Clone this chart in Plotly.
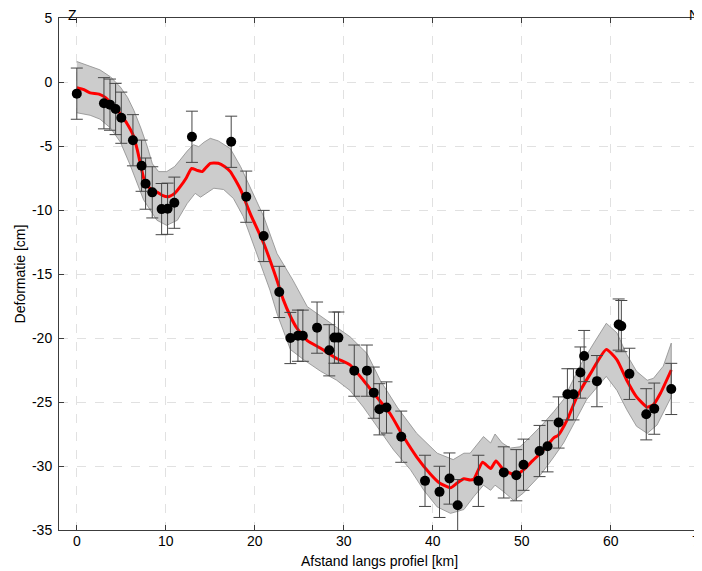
import plotly.graph_objects as go

# Measured points
pt_x = [0.0, 3.05, 3.73, 4.36, 5.0, 6.31, 7.28, 7.73, 8.48, 9.53, 10.2, 10.96, 12.94, 17.35,
        19.04, 21.0, 22.75, 24.0, 24.85, 25.4, 27.0, 28.37, 28.95, 29.4, 31.18, 32.6, 33.37,
        34.0, 34.8, 36.46, 39.13, 40.76, 41.88, 42.8, 45.13, 47.98, 49.39, 50.2, 52.0, 52.9,
        54.14, 55.13, 55.81, 56.59, 57.01, 58.45, 60.89, 61.19, 62.1, 63.99, 64.89, 66.8]
pt_y = [-0.91, -1.66, -1.77, -2.11, -2.79, -4.55, -6.54, -7.94, -8.62, -9.93, -9.9, -9.43, -4.28, -4.67,
        -8.96, -12.03, -16.4, -20.0, -19.82, -19.82, -19.19, -20.96, -19.97, -19.97, -22.55, -22.55, -24.27,
        -25.57, -25.43, -27.71, -31.16, -32.02, -30.98, -33.06, -31.16, -30.5, -30.72, -29.9, -28.83, -28.46,
        -26.6, -24.4, -24.4, -22.7, -21.41, -23.37, -18.95, -19.07, -22.8, -25.96, -25.52, -23.98]
pt_err = [2.0, 2.0, 2.0, 2.0, 2.0, 2.0, 2.0, 2.0, 2.0, 2.0, 2.0, 2.0, 2.0, 2.0,
          2.0, 2.0, 2.0, 2.0, 2.0, 2.0, 2.0, 2.0, 2.0, 2.0, 2.0, 2.0, 2.0,
          2.0, 2.0, 2.0, 2.0, 2.0, 2.0, 2.0, 2.0, 2.0, 2.0, 2.0, 2.0, 2.0,
          2.0, 2.0, 2.0, 2.0, 2.0, 2.0, 2.0, 2.0, 2.0, 2.0, 2.0, 2.0]

# Fitted (red) curve
fit_x = [0.0, 0.8, 1.5, 2.5, 3.2, 3.8, 4.4, 5.0, 5.6, 6.3, 6.8, 7.3, 7.6, 8.2, 9.0, 9.6, 10.3,
         11.0, 11.6, 12.3, 12.9, 13.5, 14.1, 14.5, 15.0, 15.9, 16.6, 17.25, 18.4, 19.5, 21.0,
         22.5, 23.2, 24.0, 24.7, 25.9, 27.4, 29.2, 30.7, 32.2, 33.7, 35.2, 36.7, 38.2, 39.7,
         40.8, 42.0, 42.7, 43.5, 44.2, 44.6, 45.6, 46.5, 47.1, 47.95, 49.3, 50.2, 51.2, 52.1,
         53.6, 54.1, 55.1, 56.2, 57.7, 59.5, 60.7, 61.8, 62.9, 64.1, 64.8, 65.6, 66.8]
fit_y = [-0.45, -0.6, -0.85, -0.95, -1.2, -1.6, -2.0, -2.6, -3.2, -4.1, -5.3, -6.9, -7.7, -8.3, -8.6, -8.85, -8.96,
         -8.7, -8.2, -7.5, -6.75, -6.9, -7.0, -6.7, -6.35, -6.35, -6.6, -7.0, -8.4, -10.3, -12.6,
         -15.5, -17.0, -18.3, -19.2, -20.2, -20.8, -21.6, -22.1, -23.3, -24.6, -25.9, -27.7, -29.3, -30.6,
         -31.35, -31.7, -31.35, -31.0, -31.1, -31.04, -29.7, -30.2, -29.6, -30.3, -30.7, -30.3, -29.6, -29.0,
         -27.8, -27.6, -26.4, -24.6, -22.8, -20.9, -21.7, -23.3, -24.6, -25.4, -25.2, -24.3, -22.5]

# Uncertainty band
up_x = [0.0, 1.5, 2.6, 3.8, 4.9, 5.7, 6.4, 7.2, 7.9, 8.5, 9.2, 10.1, 11.0, 11.6, 12.4, 13.1, 13.7,
        14.3, 15.0, 15.9, 17.25, 18.4, 19.5, 21.0, 22.5, 24.3, 25.9, 28.5, 30.7, 32.6, 34.1, 36.0,
        38.2, 40.5, 42.3, 43.5, 44.2, 45.7, 46.5, 47.0, 47.8, 48.7, 49.8, 51.0, 52.4, 53.6, 54.7,
        55.4, 56.6, 58.1, 59.5, 60.7, 61.8, 62.9, 64.1, 64.8, 65.9, 66.8]
up_y = [1.6, 1.25, 0.95, 0.4, -0.4, -1.2, -2.2, -3.6, -5.0, -6.4, -7.0, -7.0, -6.6, -6.1, -5.4, -4.9, -5.05,
        -4.7, -4.4, -4.6, -5.2, -6.6, -8.2, -10.5, -13.4, -15.5, -17.55, -18.85, -19.9, -21.2, -23.3, -25.4,
        -27.45, -29.0, -29.5, -29.0, -29.0, -27.7, -28.2, -27.5, -28.2, -28.6, -28.5, -27.7, -26.7, -25.75, -24.8,
        -23.8, -22.1, -20.4, -18.85, -19.6, -21.3, -22.6, -23.3, -23.15, -22.2, -20.4]
lo_x = [0.0, 1.5, 2.6, 3.8, 4.9, 6.0, 7.5, 9.0, 10.1, 11.3, 12.4, 13.3, 13.9, 15.4, 16.5, 17.6, 18.7,
        20.2, 21.7, 22.5, 24.0, 25.5, 27.4, 29.2, 30.7, 32.2, 33.7, 35.6, 37.5, 39.0, 40.5, 42.0,
        43.5, 44.6, 45.7, 46.5, 47.0, 47.95, 49.1, 50.2, 52.1, 53.6, 54.7, 55.8, 57.3, 59.5, 60.7,
        61.8, 62.9, 64.1, 65.2, 66.8]
lo_y = [-2.4, -2.6, -2.9, -3.6, -4.7, -6.5, -9.2, -10.8, -11.2, -10.8, -9.5, -8.7, -9.0, -8.3, -8.4, -9.1, -10.5,
        -13.4, -16.25, -18.1, -20.9, -21.7, -22.6, -23.3, -24.1, -25.4, -26.9, -28.75, -30.3, -31.9, -33.2, -33.7,
        -33.4, -32.4, -31.5, -31.9, -31.5, -32.0, -32.7, -32.1, -30.7, -29.3, -28.2, -26.7, -24.8, -23.0, -24.1,
        -25.6, -26.9, -27.45, -26.8, -24.6]

x_ticks = [0, 10, 20, 30, 40, 50, 60, 70]
y_ticks = [-35, -30, -25, -20, -15, -10, -5, 0, 5]

font_family = "Liberation Sans, Arial, Helvetica, sans-serif"

fig = go.Figure()

fig.add_trace(go.Scatter(
    x=up_x + lo_x[::-1], y=up_y + lo_y[::-1],
    mode="lines", fill="toself", fillcolor="rgb(204,204,204)",
    line=dict(color="rgb(140,140,140)", width=0.8),
    hoverinfo="skip", showlegend=False))

fig.add_trace(go.Scatter(
    x=fit_x, y=fit_y, mode="lines",
    line=dict(color="rgb(255,0,0)", width=3, shape="spline", smoothing=0.5),
    showlegend=False))

fig.add_trace(go.Scatter(
    x=pt_x, y=pt_y, mode="markers",
    marker=dict(color="black", size=10),
    error_y=dict(type="data", array=pt_err, visible=True, color="rgb(70,70,70)",
                 thickness=1, width=6),
    showlegend=False))

axis_common = dict(
    showline=True, linecolor="rgb(60,60,60)", linewidth=1, mirror="ticks",
    ticks="inside", ticklen=5, tickcolor="rgb(60,60,60)",
    showgrid=True, gridcolor="rgb(225,225,225)", griddash="dash", gridwidth=1,
    zeroline=False, automargin=False, ticklabeloverflow="allow",
    tickfont=dict(family=font_family, size=14, color="black"),
)

fig.update_xaxes(range=[-2, 70.03], tickvals=x_ticks, ticktext=[str(v) for v in x_ticks],
                 ticklabelstandoff=-2,
                 title=dict(text="Afstand langs profiel [km]",
                            font=dict(family=font_family, size=14, color="black"), standoff=8),
                 **axis_common)
fig.update_yaxes(range=[-35, 5], tickvals=y_ticks, ticktext=[str(v) for v in y_ticks],
                 ticklabelstandoff=3,
                 title=dict(text="Deformatie [cm]",
                            font=dict(family=font_family, size=14, color="black"), standoff=3),
                 **axis_common)

fig.add_annotation(x=-0.45, y=1.0, xref="x", yref="paper", text="Z", showarrow=False,
                   xanchor="center", yanchor="bottom", yshift=-6, borderpad=0,
                   font=dict(family=font_family, size=14, color="black"))
fig.add_annotation(x=69.4, y=1.0, xref="x", yref="paper", text="N", showarrow=False,
                   xanchor="center", yanchor="bottom", yshift=-6, borderpad=0,
                   font=dict(family=font_family, size=14, color="black"))

# The page body adds an 8px offset; size the figure so the plot area lands where the reference has it.
fig.update_layout(
    width=694, height=563,
    margin=dict(l=51, r=2, t=10, b=41),
    plot_bgcolor="white", paper_bgcolor="white",
    font=dict(family=font_family, size=14, color="black"),
)

fig.write_html("out.html")
